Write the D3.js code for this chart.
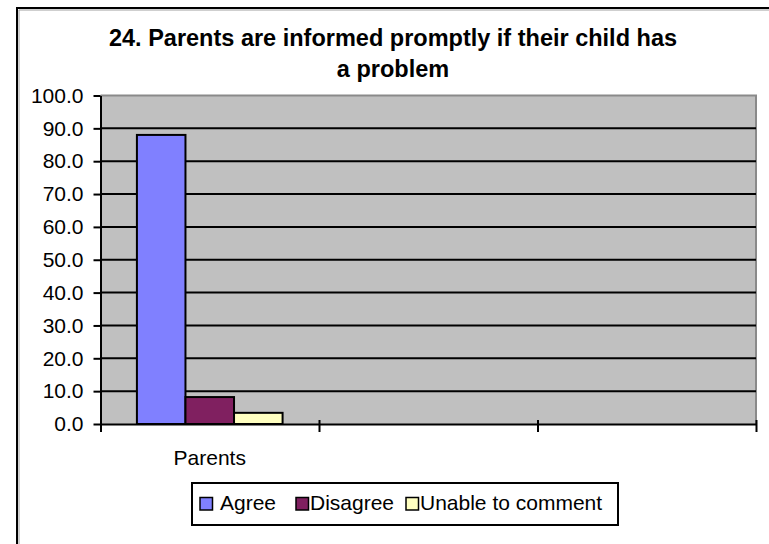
<!DOCTYPE html>
<html>
<head>
<meta charset="utf-8">
<script src="https://cdn.jsdelivr.net/npm/d3@7/dist/d3.min.js"></script>
<style>
  html, body { margin: 0; padding: 0; background: #ffffff; }
  svg { display: block; }
  text { font-family: "Liberation Sans", Arial, sans-serif; fill: #000; }
</style>
</head>
<body>
<svg id="chart" width="769" height="544"></svg>
<script>
// ---- Data ----
const titleLines = ["24. Parents are informed promptly if their child has", "a problem"];
const categories = ["Parents", "", ""];
const seriesNames = ["Agree", "Disagree", "Unable to comment"];
const agreeValues = [88.0, null, null];
const disagreeValues = [8.2, null, null];
const unableValues = [3.4, null, null];
const seriesColors = ["#8080FF", "#802060", "#FFFFC0"];
const yTicks = [0, 10, 20, 30, 40, 50, 60, 70, 80, 90, 100];

const seriesValues = [agreeValues, disagreeValues, unableValues];

// ---- Layout ----
const svg = d3.select("#chart");
const W = 769, H = 544;
const plot = { left: 100.5, right: 756, top: 95.5, bottom: 424 };

// outer chart border (right/bottom edges lie off-canvas)
svg.append("rect")
  .attr("x", 17).attr("y", 8)
  .attr("width", 800).attr("height", 600)
  .attr("fill", "#fff").attr("stroke", "#000").attr("stroke-width", 2);
svg.append("path")
  .attr("d", `M19,${H} V10 H${W}`)
  .attr("fill", "none").attr("stroke", "#a0a0a0").attr("stroke-width", 1);

// title
svg.append("g").selectAll("text").data(titleLines).join("text")
  .attr("x", 393).attr("y", (d, i) => 46 + i * 30.5)
  .attr("text-anchor", "middle")
  .attr("font-weight", "bold")
  .attr("font-size", "23.5px")
  .text(d => d);

// scales
const catIdx = categories.map((c, i) => i);
const x0 = d3.scaleBand().domain(catIdx).range([plot.left, plot.right]).padding(0);
const bw = x0.bandwidth() / (seriesNames.length + 1.5);
const x1 = d3.scaleBand().domain(seriesNames)
  .range([0.75 * bw, x0.bandwidth() - 0.75 * bw]).padding(0);
const y = d3.scaleLinear().domain([0, 100]).range([plot.bottom, plot.top]);
const xEdge = d3.scaleLinear().domain([0, categories.length]).range([plot.left, plot.right]);

// plot area
svg.append("rect")
  .attr("x", plot.left).attr("y", plot.top)
  .attr("width", plot.right - plot.left).attr("height", plot.bottom - plot.top)
  .attr("fill", "#C0C0C0");
svg.append("path")
  .attr("d", `M${plot.left},${plot.top} H${plot.right} V${plot.bottom}`)
  .attr("fill", "none").attr("stroke", "#8a8a8a").attr("stroke-width", 2);

// gridlines
svg.append("g").selectAll("line")
  .data(yTicks.filter(t => t > 0 && t < 100)).join("line")
  .attr("x1", plot.left).attr("x2", plot.right)
  .attr("y1", d => y(d)).attr("y2", d => y(d))
  .attr("stroke", "#000").attr("stroke-width", 2);

// bars
const barData = [];
catIdx.forEach(ci => {
  seriesNames.forEach((s, si) => {
    const v = seriesValues[si][ci];
    if (v != null) barData.push({ ci, s, si, v });
  });
});
svg.append("g").selectAll("rect").data(barData).join("rect")
  .attr("x", d => x0(d.ci) + x1(d.s))
  .attr("y", d => y(d.v))
  .attr("width", x1.bandwidth())
  .attr("height", d => y(0) - y(d.v))
  .attr("fill", d => seriesColors[d.si])
  .attr("stroke", "#000").attr("stroke-width", 2);

// y axis
const yAxis = svg.append("g")
  .attr("transform", `translate(${plot.left},0)`)
  .call(d3.axisLeft(y).tickValues(yTicks).tickFormat(d3.format(".1f"))
    .tickSize(7).tickSizeOuter(0).tickPadding(10));
yAxis.select(".domain").attr("stroke", "#000").attr("stroke-width", 2);
yAxis.selectAll(".tick line").attr("stroke", "#000").attr("stroke-width", 2);
yAxis.selectAll(".tick text")
  .attr("font-size", "21px").attr("font-family", "Liberation Sans, Arial, sans-serif")
  .attr("fill", "#000");

// x axis (tick marks at category boundaries, crossing the axis)
const xAxis = svg.append("g")
  .attr("transform", `translate(0,${plot.bottom})`)
  .call(d3.axisBottom(xEdge).tickValues(d3.range(categories.length + 1))
    .tickFormat("").tickSize(8).tickSizeOuter(0));
xAxis.select(".domain").attr("stroke", "#000").attr("stroke-width", 2);
xAxis.selectAll(".tick line").attr("y1", -4).attr("stroke", "#000").attr("stroke-width", 2);

// category labels
const xLab = svg.append("g")
  .attr("transform", `translate(0,${plot.bottom})`)
  .call(d3.axisBottom(x0).tickSize(0).tickPadding(26).tickFormat(i => categories[i]));
xLab.select(".domain").remove();
xLab.selectAll(".tick text")
  .attr("font-size", "21px").attr("font-family", "Liberation Sans, Arial, sans-serif")
  .attr("fill", "#000");

// legend
const legend = svg.append("g");
legend.append("rect")
  .attr("x", 192).attr("y", 483).attr("width", 426).attr("height", 42)
  .attr("fill", "#fff").attr("stroke", "#000").attr("stroke-width", 2);
const legendSwatchX = [200, 296, 406];
const legendItems = legend.selectAll("g.item").data(seriesNames).join("g")
  .attr("class", "item")
  .attr("transform", (d, i) => `translate(${legendSwatchX[i]},497.5)`);
legendItems.append("rect")
  .attr("width", 12.5).attr("height", 12.5)
  .attr("fill", (d, i) => seriesColors[i])
  .attr("stroke", "#000").attr("stroke-width", 1.5);
legendItems.append("text")
  .attr("x", (d, i) => i === 0 ? 20 : 14)
  .attr("y", 12.5)
  .attr("font-size", "21px")
  .text(d => d);
</script>
</body>
</html>
